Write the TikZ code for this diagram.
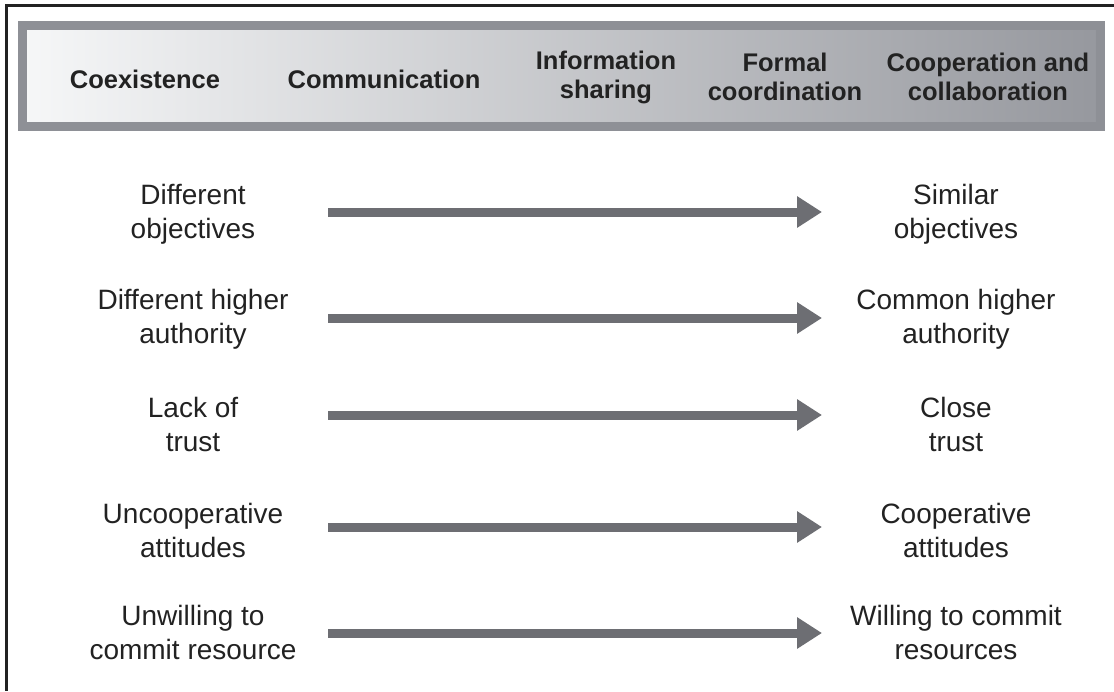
\documentclass[tikz,border=0pt]{standalone}
\usepackage{fontspec}
\setmainfont{Liberation Sans}
\usetikzlibrary{arrows.meta}

\definecolor{framedark}{RGB}{34,34,34}
\definecolor{baredge}{RGB}{142,144,150}
\definecolor{barlight}{RGB}{246,247,248}
\definecolor{bardark}{RGB}{150,152,158}
\definecolor{arrowgrey}{RGB}{109,110,115}
\definecolor{textdark}{RGB}{34,34,34}

\tikzset{
  stage/.style={align=center, text=textdark, inner sep=0pt,
    font=\fontsize{12.75pt}{14.5pt}\selectfont\bfseries},
  factor/.style={align=center, text=textdark, inner sep=0pt,
    font=\fontsize{14pt}{17pt}\selectfont},
  shift arrow/.style={draw=arrowgrey, line width=4.5pt,
    -{Triangle[length=12.5pt,width=15pt]}}
}

\begin{document}
\begin{tikzpicture}[x=0.5pt,y=-0.5pt]
        \useasboundingbox (0,0) rectangle (1114,691);
        % frame
        \draw[framedark, line width=1.5pt] (1114,5.5) -- (6.5,5.5) -- (6.5,691);
        % stage bar
        \shade[left color=barlight, right color=bardark] (22.5,25.5) rectangle (1100.5,126.5);
        \draw[baredge, line width=4.5pt] (22.5,25.5) rectangle (1100.5,126.5);
        \node[stage] (h1) at (145, 79) {Coexistence};
        \node[stage] (h2) at (384, 79) {Communication};
        \node[stage] (h3) at (606, 77) {Information\\sharing};
        \node[stage] (h4) at (785, 77) {Formal\\coordination};
        \node[stage] (h5) at (988, 77) {Cooperation and\\collaboration};
        % factors
        \node[factor] (l1) at (193, 214) {Different\\objectives};
        \node[factor] (l2) at (193, 319) {Different higher\\authority};
        \node[factor] (l3) at (193, 424) {Lack of\\trust};
        \node[factor] (l4) at (193, 530) {Uncooperative\\attitudes};
        \node[factor] (l5) at (193, 632) {Unwilling to\\commit resource};
        \node[factor] (r1) at (956, 214) {Similar\\objectives};
        \node[factor] (r2) at (956, 319) {Common higher\\authority};
        \node[factor] (r3) at (956, 424) {Close\\trust};
        \node[factor] (r4) at (956, 530) {Cooperative\\attitudes};
        \node[factor] (r5) at (956, 632) {Willing to commit\\resources};
        \coordinate (s1) at (328, 212);
        \coordinate (s2) at (328, 318);
        \coordinate (s3) at (328, 415);
        \coordinate (s4) at (328, 527);
        \coordinate (s5) at (328, 633);
        \coordinate (t1) at (822, 212);
        \coordinate (t2) at (822, 318);
        \coordinate (t3) at (822, 415);
        \coordinate (t4) at (822, 527);
        \coordinate (t5) at (822, 633);
        \draw[shift arrow] (s1) -- (t1);
        \draw[shift arrow] (s2) -- (t2);
        \draw[shift arrow] (s3) -- (t3);
        \draw[shift arrow] (s4) -- (t4);
        \draw[shift arrow] (s5) -- (t5);
        \end{tikzpicture}
\end{document}
